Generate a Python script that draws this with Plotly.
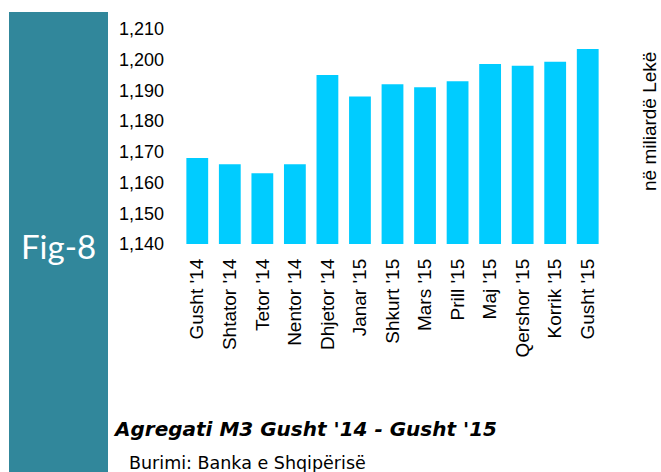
import plotly.graph_objects as go

# data
muajt = ["Gusht '14", "Shtator '14", "Tetor '14", "Nentor '14", "Dhjetor '14",
         "Janar '15", "Shkurt '15", "Mars '15", "Prill '15", "Maj '15",
         "Qershor '15", "Korrik '15", "Gusht '15"]
m3 = [1168, 1166, 1163, 1166, 1195, 1188, 1192, 1191, 1193, 1198.6, 1198, 1199.3, 1203.5]
y_ticks = [1140, 1150, 1160, 1170, 1180, 1190, 1200, 1210]

W, H = 661, 472
L, R, T, B = 181, 57, 29, 228
pw, ph = W - L - R, H - T - B


def px(x):
    return (x - L) / pw


def py(y):
    return (H - B - y) / ph


fig = go.Figure()
fig.add_trace(go.Bar(x=muajt, y=m3, marker=dict(color="#00CCFF", line=dict(width=0))))

fig.add_shape(type="rect", xref="paper", yref="paper",
              x0=px(9), x1=px(108), y0=py(472), y1=py(12),
              fillcolor="#31879B", line=dict(width=0), layer="below")


def note(text, x, y, size, family="Liberation Sans", color="black", anchor="center",
         angle=0, **font):
    fig.add_annotation(text=text, xref="paper", yref="paper", x=px(x), y=py(y),
                       xanchor=anchor, yanchor="middle", textangle=angle, showarrow=False,
                       font=dict(family=family, size=size, color=color, **font))


note("Fig-8", 58, 246, 33, family="Lato", color="white")
note("në miliardë Lekë", 649, 122, 19, angle=-90)
note("Agregati M3 Gusht '14 - Gusht '15", 111, 429, 20, family="DejaVu Sans",
     anchor="left", style="italic", weight="bold")
note("Burimi: Banka e Shqipërisë", 127, 463, 17.5, family="DejaVu Sans", anchor="left")

fig.update_layout(
    width=W, height=H,
    margin=dict(l=L, r=R, t=T, b=B),
    paper_bgcolor="white", plot_bgcolor="white",
    bargap=0.33, showlegend=False,
    xaxis=dict(tickangle=-90, showgrid=False, showline=False, ticks="",
               ticklabelstandoff=10,
               tickfont=dict(family="Liberation Sans", size=19, color="black")),
    yaxis=dict(range=[1140, 1210], tickvals=y_ticks, tickformat=",d",
               showgrid=False, showline=False, zeroline=False, ticks="",
               ticklabelstandoff=16,
               tickfont=dict(family="Liberation Sans", size=18, color="black")),
)

# the page body has an 8px default margin; drop it so the figure sits at 0,0
fig.write_html("out.html", config={"displayModeBar": False},
               post_script="document.body.style.margin='0';")
